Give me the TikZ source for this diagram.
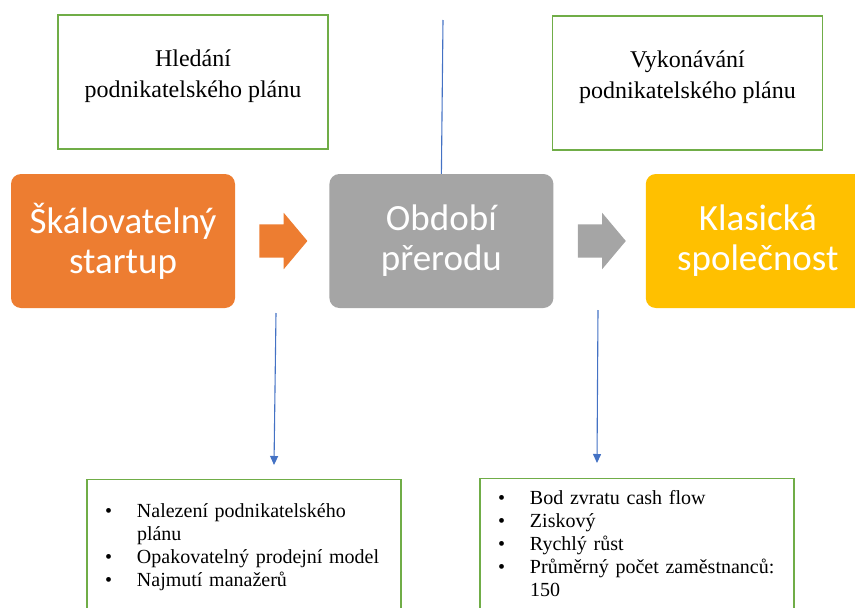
\documentclass[tikz,border=0pt]{standalone}
\usepackage{fontspec}
\setmainfont{Liberation Serif}
\newfontfamily\stagefont{Carlito}
\usepackage{tikz}
\usetikzlibrary{arrows.meta, positioning, shapes.arrows}
\definecolor{colOrange}{RGB}{237,125,49}
\definecolor{colGray}{RGB}{165,165,165}
\definecolor{colYellow}{RGB}{255,192,0}
\definecolor{colGreen}{RGB}{112,173,71}
\definecolor{colBlue}{RGB}{68,114,196}
\newcommand{\lowpad}{\rule[-17pt]{0pt}{0pt}}
\newcommand{\bul}{\makebox[32pt][l]{\textbullet}}
\newcommand{\cont}{\hspace*{32pt}}

\begin{document}
\begin{tikzpicture}[
  x=1pt, y=-1pt,
  stage/.style={rectangle, rounded corners=10pt, minimum width=224pt,
                minimum height=134pt, text=white, align=center,
                font=\stagefont\fontsize{37}{40}\selectfont},
  planbox/.style={rectangle, draw=colGreen, line width=1.2pt,
                  minimum width=270pt, minimum height=134pt, align=center,
                  font=\fontsize{24}{31}\selectfont},
  listbox/.style={rectangle, draw=colGreen, line width=1.2pt, anchor=north,
                  text width=278pt, inner xsep=18pt, align=left,
                  font=\fontsize{20}{23}\selectfont},
  blockarr/.style={single arrow, single arrow head extend=11.5pt,
                   single arrow tip angle=100, minimum height=48pt,
                   inner xsep=0pt, inner ysep=16.5pt},
  bline/.style={draw=colBlue, line width=1.1pt},
  narr/.style={bline, -{Triangle[length=9pt, width=8pt]}},
]
\useasboundingbox (0,0) rectangle (855,608);
\clip (0,0) rectangle (855,608);

\node[stage, fill=colOrange] (start) at (123,241) {Škálovatelný\\startup};
\node[blockarr, fill=colOrange, right=24pt of start] (arr1) {};
\node[stage, fill=colGray, right=94pt of start] (trans) {Období\\přerodu};
\node[blockarr, fill=colGray, right=24pt of trans] (arr2) {};
\node[stage, fill=colYellow, right=92pt of trans] (classic) {Klasická\\společnost};

\node[planbox] (search) at (193,82) {Hledání\\podnikatelského plánu\lowpad};
\node[planbox] (execute) at (687.5,83) {Vykonávání\\podnikatelského plánu\lowpad};

\node[listbox, inner ysep=24pt] (findlist) at (244,479)
  {\bul Nalezení podnikatelského\\\cont plánu\\
   \bul Opakovatelný prodejní model\\
   \bul Najmutí manažerů};
\node[listbox, inner ysep=12pt] (runlist) at (637,478)
  {\bul Bod zvratu cash flow\\
   \bul Ziskový\\
   \bul Rychlý růst\\
   \bul Průměrný počet zaměstnanců:\\\cont 150};

% blue lines
\coordinate (topline) at (443,20);
\coordinate (leftfrom) at (276,313);
\coordinate (leftto) at (274,465);
\coordinate (rightfrom) at (598,310);
\coordinate (rightto) at (597,463);
\draw[bline] (topline) -- (trans.north);
\draw[narr] (leftfrom) -- (leftto);
\draw[narr] (rightfrom) -- (rightto);

\end{tikzpicture}
\end{document}
